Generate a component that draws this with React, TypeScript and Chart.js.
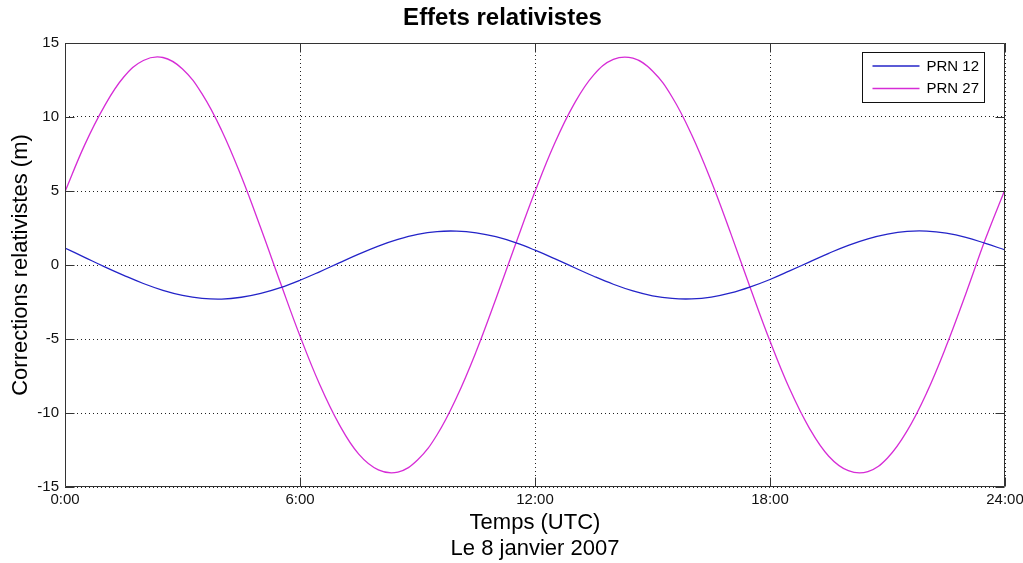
import React, { useEffect, useRef } from 'react';
import { Chart, registerables } from 'chart.js';

Chart.register(...registerables);

// ---- data ----
const hours = [
  0, 0.5, 1, 1.5, 2, 2.5, 3, 3.5, 4, 4.5, 5, 5.5, 6, 6.5, 7, 7.5, 8, 8.5, 9, 9.5,
  10, 10.5, 11, 11.5, 12, 12.5, 13, 13.5, 14, 14.5, 15, 15.5, 16, 16.5, 17, 17.5,
  18, 18.5, 19, 19.5, 20, 20.5, 21, 21.5, 22, 22.5, 23, 23.5, 24,
];

const prn12 = [
  1.15, 0.52, -0.11, -0.7, -1.25, -1.71, -2.05, -2.25, -2.3, -2.18, -1.92, -1.53,
  -1.03, -0.46, 0.14, 0.73, 1.28, 1.73, 2.07, 2.26, 2.29, 2.17, 1.91, 1.51, 1.0,
  0.43, -0.17, -0.76, -1.3, -1.75, -2.08, -2.26, -2.29, -2.17, -1.89, -1.48, -0.98,
  -0.4, 0.2, 0.79, 1.33, 1.77, 2.09, 2.27, 2.29, 2.15, 1.87, 1.46, 1.02,
];

const prn27 = [
  4.95, 8.1, 10.7, 12.7, 13.82, 14.02, 13.25, 11.56, 9.09, 5.99, 2.48, -1.2, -4.8,
  -8.06, -10.77, -12.78, -13.84, -13.99, -13.18, -11.47, -8.94, -5.83, -2.3, 1.38,
  4.96, 8.21, 10.89, 12.85, 13.89, 13.97, 13.11, 11.35, 8.8, 5.66, 2.12, -1.57,
  -5.14, -8.36, -11.0, -12.92, -13.9, -13.96, -13.04, -11.21, -8.64, -5.48, -1.94,
  1.75, 5.1,
];

const seriesNames = ['PRN 12', 'PRN 27'];
const xTickValues = [0, 6, 12, 18, 24];
const xTickLabels = ['0:00', '6:00', '12:00', '18:00', '24:00'];
const yTickValues = [-15, -10, -5, 0, 5, 10, 15];
const titleText = 'Effets relativistes';
const xTitleLines = ['Temps (UTC)', 'Le 8 janvier 2007'];
const yTitleText = 'Corrections relativistes (m)';

// ---- styles ----
const FONT = "'Liberation Sans', Arial, Helvetica, sans-serif";
const BLUE = '#2424c8';
const MAGENTA = '#d62cd6';
const FRAME = '#333333';

const framePlugin = {
  id: 'matlabFrame',
  afterDraw(chart: any) {
    const { ctx, chartArea, scales } = chart;
    const { left, top, right, bottom } = chartArea;
    const L = Math.round(left) + 0.5;
    const R = Math.round(right) - 0.5;
    const T = Math.round(top) + 0.5;
    const B = Math.round(bottom) - 0.5;
    ctx.save();
    ctx.strokeStyle = FRAME;
    ctx.lineWidth = 1;
    ctx.setLineDash([]);
    ctx.beginPath();
    ctx.rect(L, T, R - L, B - T);
    // inner ticks
    const tl = 9;
    xTickValues.forEach((v) => {
      const px = Math.round(scales.x.getPixelForValue(v)) + 0.5;
      ctx.moveTo(px, B);
      ctx.lineTo(px, B - tl);
      ctx.moveTo(px, T);
      ctx.lineTo(px, T + tl);
    });
    yTickValues.forEach((v) => {
      const py = Math.round(scales.y.getPixelForValue(v)) + 0.5;
      ctx.moveTo(L, py);
      ctx.lineTo(L + tl, py);
      ctx.moveTo(R, py);
      ctx.lineTo(R - tl, py);
    });
    ctx.stroke();

    // legend
    const boxW = 122;
    const boxH = 50;
    const bx = Math.round(right) - 21 - boxW + 0.5;
    const by = Math.round(top) + 9 + 0.5;
    ctx.fillStyle = '#ffffff';
    ctx.fillRect(bx, by, boxW, boxH);
    ctx.strokeStyle = '#111111';
    ctx.strokeRect(bx, by, boxW, boxH);
    const colors = [BLUE, MAGENTA];
    ctx.font = `15px ${FONT}`;
    ctx.textBaseline = 'middle';
    ctx.textAlign = 'left';
    seriesNames.forEach((name, i) => {
      const y = by + 13.5 + i * 22.5;
      ctx.strokeStyle = colors[i];
      ctx.lineWidth = 1.3;
      ctx.beginPath();
      ctx.moveTo(bx + 10, y);
      ctx.lineTo(bx + 57, y);
      ctx.stroke();
      ctx.fillStyle = '#000000';
      ctx.fillText(name, bx + 64, y + 0.5);
    });
    ctx.restore();
  },
};

export default function App() {
  const canvasRef = useRef<HTMLCanvasElement | null>(null);

  useEffect(() => {
    const canvas = canvasRef.current;
    if (!canvas) return;
    Chart.defaults.font.family = FONT;
    const chart = new Chart(canvas, {
      type: 'line',
      data: {
        datasets: [
          {
            label: seriesNames[0],
            data: hours.map((h, i) => ({ x: h, y: prn12[i] })),
            borderColor: BLUE,
            backgroundColor: BLUE,
            borderWidth: 1.3,
            pointRadius: 0,
            tension: 0.4,
            fill: false,
          },
          {
            label: seriesNames[1],
            data: hours.map((h, i) => ({ x: h, y: prn27[i] })),
            borderColor: MAGENTA,
            backgroundColor: MAGENTA,
            borderWidth: 1.3,
            pointRadius: 0,
            tension: 0.4,
            fill: false,
          },
        ],
      },
      options: {
        responsive: false,
        animation: false,
        events: [],
        layout: { padding: { left: 0, right: 18, top: 0, bottom: 0 } },
        plugins: {
          legend: { display: false },
          tooltip: { enabled: false },
          title: {
            display: true,
            text: titleText,
            color: '#000000',
            font: { family: FONT, size: 24, weight: 'bold', lineHeight: 1.2 },
            padding: { top: 4, bottom: 10.2 },
          },
        },
        scales: {
          x: {
            type: 'linear',
            min: 0,
            max: 24,
            afterBuildTicks: (s: any) => {
              s.ticks = xTickValues.map((v) => ({ value: v }));
            },
            afterFit: (s: any) => {
              s.height = 76;
              s.paddingLeft = 0;
              s.paddingRight = 0;
            },
            ticks: {
              autoSkip: false,
              maxRotation: 0,
              padding: 3.5,
              color: '#111111',
              font: { family: FONT, size: 15 },
              callback: (v: any) => {
                const i = xTickValues.indexOf(Number(v));
                return i >= 0 ? xTickLabels[i] : '';
              },
            },
            grid: { color: '#222222', lineWidth: 1, drawTicks: false },
            border: { display: false, dash: [1, 3] },
            title: {
              display: true,
              text: xTitleLines,
              color: '#000000',
              font: { family: FONT, size: 22, lineHeight: 26 / 22 },
              padding: { top: 0, bottom: 1 },
            },
          },
          y: {
            type: 'linear',
            min: -15,
            max: 15,
            afterBuildTicks: (s: any) => {
              s.ticks = yTickValues.map((v) => ({ value: v }));
            },
            afterFit: (s: any) => {
              s.width = 65;
              s.paddingTop = 0;
              s.paddingBottom = 0;
            },
            ticks: {
              autoSkip: false,
              padding: 6,
              color: '#111111',
              font: { family: FONT, size: 15 },
            },
            grid: { color: '#222222', lineWidth: 1, drawTicks: false },
            border: { display: false, dash: [1, 3] },
            title: {
              display: true,
              text: yTitleText,
              color: '#000000',
              font: { family: FONT, size: 22, lineHeight: 26 / 22 },
              padding: { top: 8, bottom: 0 },
            },
          },
        },
      },
      plugins: [framePlugin],
    });
    return () => chart.destroy();
  }, []);

  return (
    <div style={{ position: 'absolute', left: 0, top: 0, width: 1023, height: 563, background: '#ffffff' }}>
      <canvas ref={canvasRef} width={1023} height={563} style={{ display: 'block' }} />
    </div>
  );
}
